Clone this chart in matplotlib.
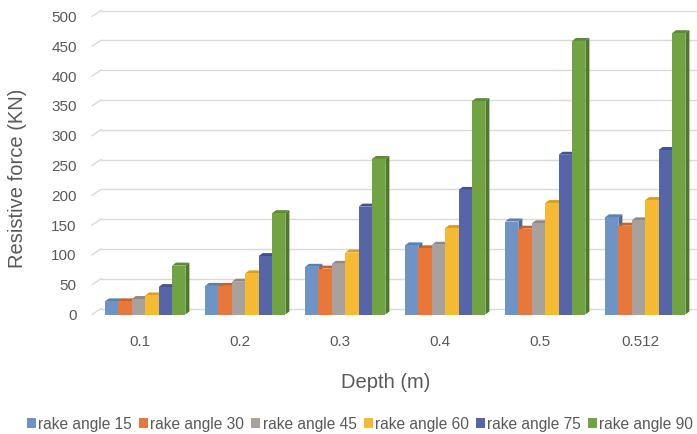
import matplotlib
matplotlib.use("Agg")
import matplotlib.pyplot as plt
import matplotlib.transforms as mtransforms
from matplotlib.patches import Polygon
import numpy as np

plt.rcParams["font.family"] = ["Liberation Sans", "DejaVu Sans"]

categories = ["0.1", "0.2", "0.3", "0.4", "0.5", "0.512"]
series_names = ["rake angle 15", "rake angle 30", "rake angle 45",
                "rake angle 60", "rake angle 75", "rake angle 90"]
rake15 = [22, 48, 80, 116, 156, 163]
rake30 = [22, 48, 77, 111, 144, 149]
rake45 = [26, 55, 85, 117, 153, 158]
rake60 = [32, 69, 104, 145, 187, 192]
rake75 = [46, 98, 181, 209, 268, 276]
rake90 = [82, 170, 261, 358, 459, 472]
series = [rake15, rake30, rake45, rake60, rake75, rake90]
yticks = [0, 50, 100, 150, 200, 250, 300, 350, 400, 450, 500]

colors = ["#6f93c5", "#e8773a", "#a8a29e", "#f5b932", "#5565a8", "#72a342"]
side_colors = ["#4d6d99", "#b3571f", "#7d7874", "#c38c16", "#3a4780", "#4e7a2b"]
top_colors = ["#5a7fb3", "#c9622a", "#908a86", "#d9a020", "#44528f", "#5d8c35"]
text_color = "#595959"

W, H = 697, 434
dpi = 100
fig = plt.figure(figsize=(W / dpi, H / dpi), dpi=dpi)
ax_left, ax_right = 92, 697
ax_bottom_px, ax_top_px = 314.5, 16.5
ax = fig.add_axes([ax_left / W, (H - ax_bottom_px) / H,
                   (ax_right - ax_left) / W, (ax_bottom_px - ax_top_px) / H])
ax.set_xlim(-0.48, 5.57)
ax.set_ylim(0, 500)
for s in ax.spines.values():
    s.set_visible(False)
ax.set_xticks(range(len(categories)))
ax.set_xticklabels(categories, color=text_color, fontsize=11)
ax.set_yticks(yticks)
ax.set_yticklabels([str(t) for t in yticks], color=text_color, fontsize=11)
for lbl in ax.get_yticklabels():
    lbl.set_transform(lbl.get_transform() + mtransforms.ScaledTranslation(0, -2 / dpi, fig.dpi_scale_trans))
ax.tick_params(length=0)
ax.tick_params(axis="x", pad=15)
ax.tick_params(axis="y", pad=11)

# back wall gridlines (3D offset)
px = 1.0 / dpi
dx_back, dy_back = 9, 6
back = ax.transData + mtransforms.ScaledTranslation(dx_back * px, dy_back * px, fig.dpi_scale_trans)
for t in yticks:
    ax.plot([-0.48, 5.57], [t, t], color="#d9d9d9", lw=1.0, transform=back,
            clip_on=False, zorder=0)
    x0 = -0.48
    p0 = ax.transData.transform((x0, t))
    p1 = p0 + np.array([dx_back, dy_back])
    inv = ax.transData.inverted()
    q0 = inv.transform(p0)
    q1 = inv.transform(p1)
    ax.plot([q0[0], q1[0]], [q0[1], q1[1]], color="#d9d9d9", lw=1.0,
            clip_on=False, zorder=0)

n = len(series)
bw = 0.134
x = np.arange(len(categories))
sdx, sdy = 4, 3  # side/top depth in pixels
for i, (vals, c) in enumerate(zip(series, colors)):
    pos = x - 0.4 + 0.05 + bw * i + bw / 2
    ax.bar(pos, vals, width=bw, color=c, edgecolor="none", zorder=2 + i * 0.1,
           label=series_names[i])
    inv = ax.transData.inverted()
    for xp, v in zip(pos, vals):
        tl = ax.transData.transform((xp - bw / 2, v))
        tr = ax.transData.transform((xp + bw / 2, v))
        br = ax.transData.transform((xp + bw / 2, 0))
        off = np.array([sdx, sdy])
        top = [tl, tr, tr + off, tl + off]
        side = [tr, br, br + off, tr + off]
        ax.add_patch(Polygon(inv.transform(np.array(top)), closed=True,
                             facecolor=top_colors[i], edgecolor="none",
                             zorder=1.9 + i * 0.1, clip_on=False))
        ax.add_patch(Polygon(inv.transform(np.array(side)), closed=True,
                             facecolor=side_colors[i], edgecolor="none",
                             zorder=1.9 + i * 0.1, clip_on=False))

fig.text(386 / W, 1 - 382 / H, "Depth (m)", ha="center", va="center",
         color=text_color, fontsize=14.5)
fig.text(18 / W, 1 - 178 / H, "Resistive force (KN)", ha="center", va="center",
         rotation=90, color=text_color, fontsize=14.5)

leg = fig.legend(loc="center left", bbox_to_anchor=(27 / W, 1 - 424 / H),
                 ncol=6, frameon=False, fontsize=11.2, handlelength=0.58,
                 handleheight=0.58, handletextpad=0.15, columnspacing=0.45,
                 labelcolor=text_color, borderaxespad=0, borderpad=0)

fig.savefig("out.png", dpi=dpi)
